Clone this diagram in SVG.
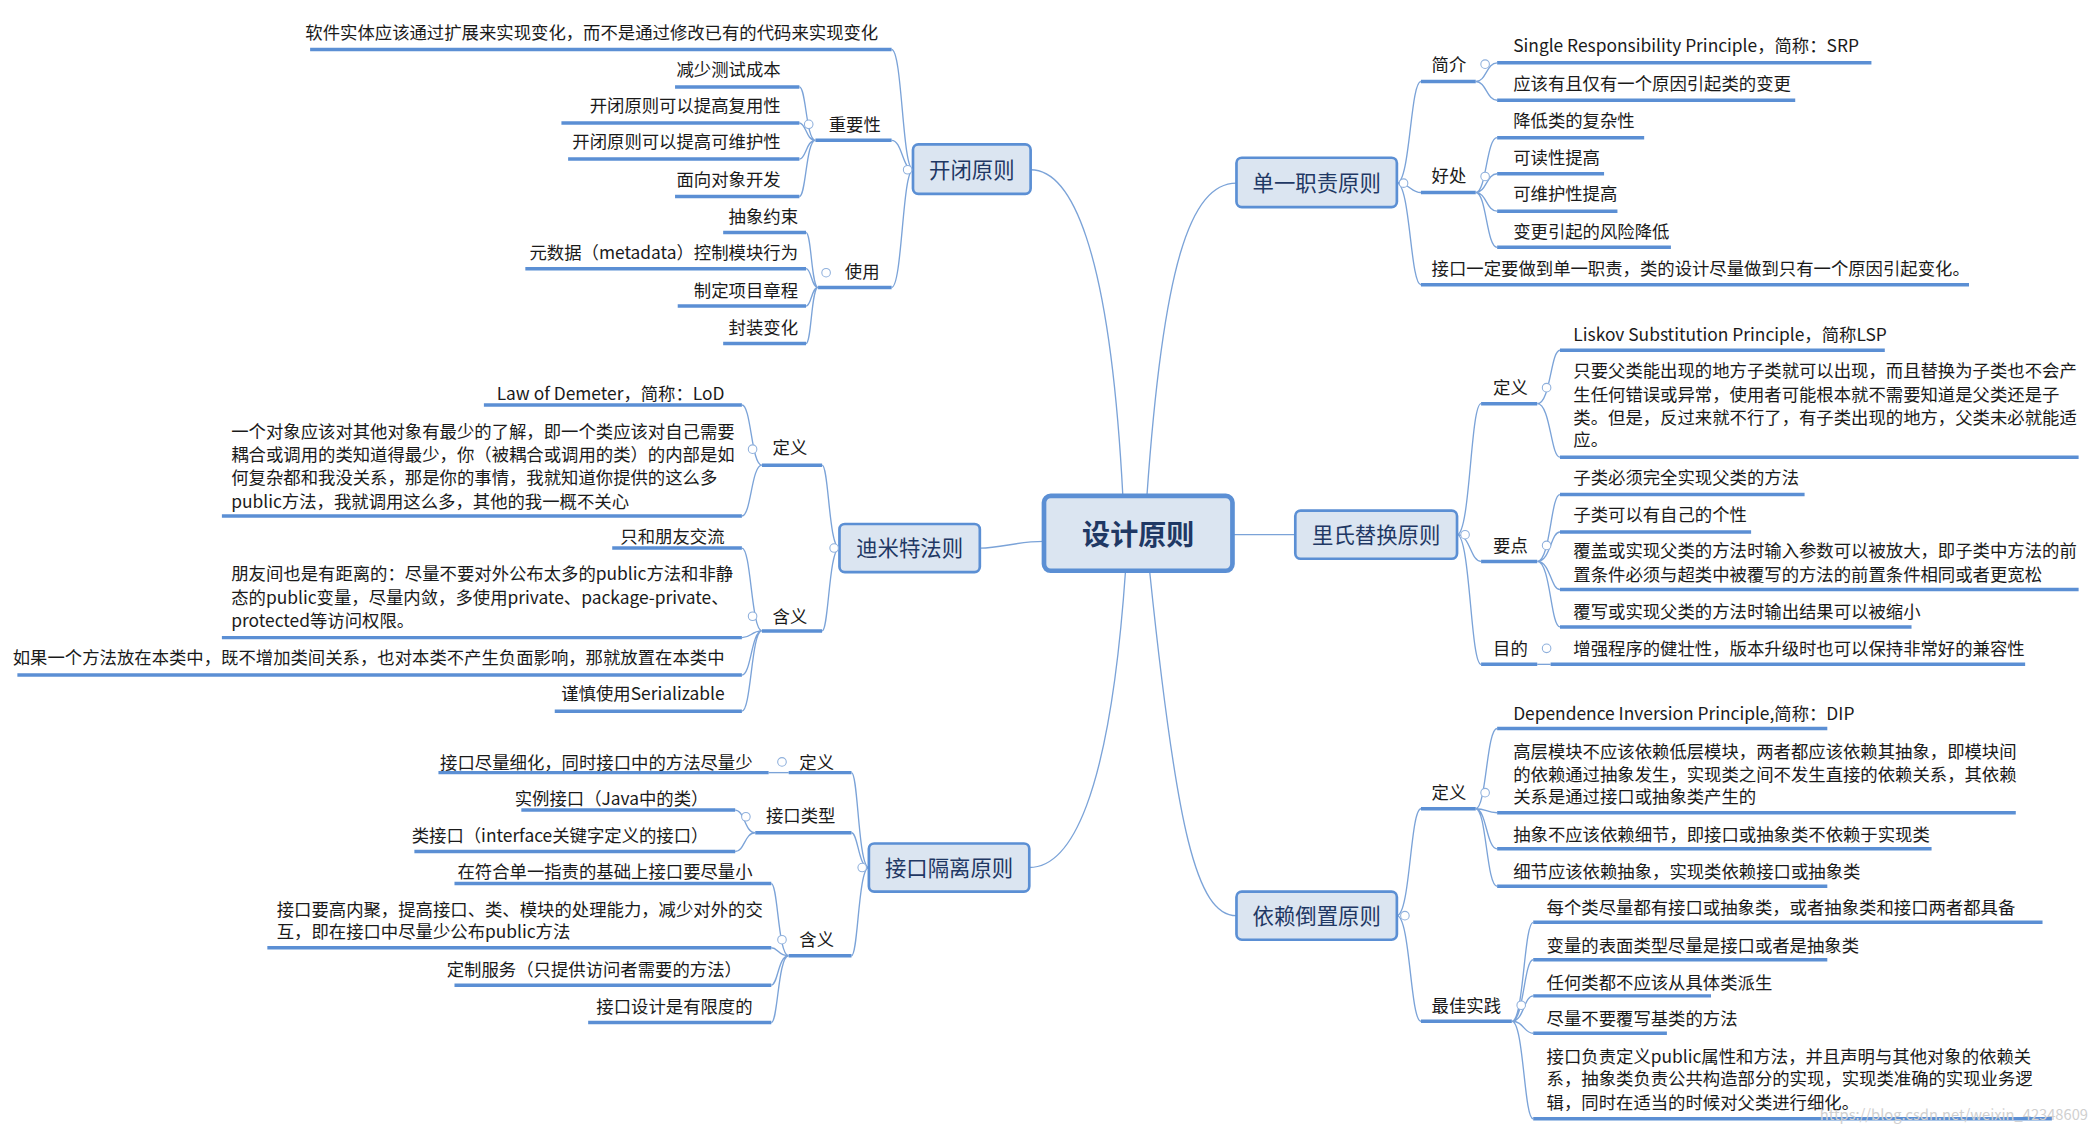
<svg xmlns="http://www.w3.org/2000/svg" width="2096" height="1136" viewBox="0 0 2096 1136">
<style>
text{font-family:"Noto Sans CJK SC","Liberation Sans",sans-serif;font-size:13px;fill:#1a1a1a}
.e{text-anchor:end}
.u{stroke:#5b8fd4;stroke-width:2.6;fill:none}
.c{stroke:#7ba3d8;stroke-width:1;fill:none}
.b{fill:#dbe5f1;stroke:#5b8fd4;stroke-width:2}
.bt{font-size:16px;fill:#1f3864;text-anchor:middle}
.o{fill:#fff;stroke:#8fb0dc;stroke-width:0.8}
</style>
<rect width="2096" height="1136" fill="#fff"/>
<g transform="scale(1.33673)">
<g id="connectors">
<path class="c" d="M840,371 C830,180 800,127 771,127"/>
<path class="c" d="M858,371 C870,200 890,137 925,137"/>
<path class="c" d="M781,405 C760,405 750,410 733,410"/>
<path class="c" d="M922,400 L969,400"/>
<path class="c" d="M842,427 C830,600 800,649 770,649"/>
<path class="c" d="M860,427 C880,620 895,685 925,685"/>
<!-- 开闭 -->
<path class="c" d="M683,127 C675,127 675,37 667,37 M683,127 C675,127 675,105 667,105 M683,127 C675,127 675,215 667,215"/>
<path class="c" d="M610,105 C603,105 603,65 598,65 M610,105 C603,105 603,92 598,92 M610,105 C603,105 603,119 598,119 M610,105 C603,105 603,147 598,147"/>
<path class="c" d="M612,215 C607,215 607,174 603,174 M612,215 C607,215 607,201 603,201 M612,215 C607,215 607,229 603,229 M612,215 C607,215 607,257 603,257"/>
<!-- 迪米特 -->
<path class="c" d="M628,410 C620,410 620,348 615,348 M628,410 C620,410 620,472 615,472"/>
<path class="c" d="M570,348 C562,348 562,303 555,303 M570,348 C562,348 562,386 555,386"/>
<path class="c" d="M570,472 C562,472 562,410 555,410 M570,472 C562,472 562,477 555,477 M570,472 C562,472 562,505 555,505 M570,472 C562,472 562,532 555,532"/>
<!-- 接口隔离 -->
<path class="c" d="M650,649 C642,649 642,578 637,578 M650,649 C642,649 642,623 637,623 M650,649 C642,649 642,715 637,715"/>
<path class="c" d="M590,578 L575,578"/>
<path class="c" d="M565,623 C557,623 557,606 550,606 M565,623 C557,623 557,637 550,637"/>
<path class="c" d="M590,715 C582,715 582,661 577,661 M590,715 C582,715 582,709 577,709 M590,715 C582,715 582,737 577,737 M590,715 C582,715 582,765 577,765"/>
<!-- 单一 -->
<path class="c" d="M1045,137 C1055,137 1055,61 1063,61 M1045,137 C1055,137 1055,144 1063,144 M1045,137 C1055,137 1055,213 1063,213"/>
<path class="c" d="M1104,61 C1112,61 1112,47 1120,47 M1104,61 C1112,61 1112,75 1120,75"/>
<path class="c" d="M1104,144 C1112,144 1112,103 1120,103 M1104,144 C1112,144 1112,130 1120,130 M1104,144 C1112,144 1112,158 1120,158 M1104,144 C1112,144 1112,185 1120,185"/>
<!-- 里氏 -->
<path class="c" d="M1090,400 C1100,400 1100,302 1108,302 M1090,400 C1100,400 1100,420 1108,420 M1090,400 C1100,400 1100,497 1108,497"/>
<path class="c" d="M1150,302 C1160,302 1160,262 1167,262 M1150,302 C1160,302 1160,342 1167,342"/>
<path class="c" d="M1150,420 C1160,420 1160,370 1167,370 M1150,420 C1160,420 1160,398 1167,398 M1150,420 C1160,420 1160,441 1167,441 M1150,420 C1160,420 1160,469 1167,469"/>
<path class="c" d="M1150,497 L1160,497"/>
<!-- 依赖 -->
<path class="c" d="M1045,685 C1055,685 1055,605 1063,605 M1045,685 C1055,685 1055,764 1063,764"/>
<path class="c" d="M1104,605 C1112,605 1112,545 1120,545 M1104,605 C1112,605 1112,608 1120,608 M1104,605 C1112,605 1112,635 1120,635 M1104,605 C1112,605 1112,663 1120,663"/>
<path class="c" d="M1131,764 C1140,764 1140,690 1147,690 M1131,764 C1140,764 1140,718 1147,718 M1131,764 C1140,764 1140,745 1147,745 M1131,764 C1140,764 1140,773 1147,773 M1131,764 C1140,764 1140,837 1147,837"/>
</g>

<g id="center"><rect x="781" y="371" width="141" height="56" rx="5" fill="#dbe5f1" stroke="#5b8fd4" stroke-width="3.5"/><text x="851.5" y="408" class="bt" style="font-size:21px;font-weight:bold">设计原则</text></g>

<g id="kaibi">
<rect class="b" x="683" y="108" width="88" height="37" rx="4"/><text class="bt" x="727" y="133">开闭原则</text>
<circle class="o" cx="679" cy="127" r="3.2"/>
<text class="e" x="657" y="29">软件实体应该通过扩展来实现变化，而不是通过修改已有的代码来实现变化</text><line class="u" x1="232" y1="37" x2="667" y2="37"/>
<text x="620" y="98">重要性</text><line class="u" x1="610" y1="105" x2="667" y2="105"/><circle class="o" cx="605" cy="93" r="3.2"/>
<text class="e" x="584" y="57">减少测试成本</text><line class="u" x1="505" y1="65" x2="598" y2="65"/>
<text class="e" x="584" y="84">开闭原则可以提高复用性</text><line class="u" x1="420" y1="92" x2="598" y2="92"/>
<text class="e" x="584" y="111">开闭原则可以提高可维护性</text><line class="u" x1="425" y1="119" x2="598" y2="119"/>
<text class="e" x="584" y="139">面向对象开发</text><line class="u" x1="505" y1="147" x2="598" y2="147"/>
<text x="632" y="208">使用</text><line class="u" x1="612" y1="215" x2="667" y2="215"/><circle class="o" cx="618" cy="204" r="3.2"/>
<text class="e" x="597" y="167">抽象约束</text><line class="u" x1="541" y1="174" x2="603" y2="174"/>
<text class="e" x="597" y="194">元数据（metadata）控制模块行为</text><line class="u" x1="393" y1="201" x2="603" y2="201"/>
<text class="e" x="597" y="222">制定项目章程</text><line class="u" x1="507" y1="229" x2="603" y2="229"/>
<text class="e" x="597" y="250">封装变化</text><line class="u" x1="541" y1="257" x2="603" y2="257"/>
</g>

<g id="dimite">
<rect class="b" x="628" y="392" width="105" height="36" rx="4"/><text class="bt" x="680.5" y="416">迪米特法则</text>
<circle class="o" cx="624" cy="410" r="3.2"/>
<text x="578" y="340">定义</text><line class="u" x1="570" y1="348" x2="615" y2="348"/><circle class="o" cx="563" cy="336" r="3.2"/>
<text class="e" x="542" y="299">Law of Demeter，简称：LoD</text><line class="u" x1="362" y1="303" x2="555" y2="303"/>
<text x="173" y="328">一个对象应该对其他对象有最少的了解，即一个类应该对自己需要</text>
<text x="173" y="345">耦合或调用的类知道得最少，你（被耦合或调用的类）的内部是如</text>
<text x="173" y="362">何复杂都和我没关系，那是你的事情，我就知道你提供的这么多</text>
<text x="173" y="380">public方法，我就调用这么多，其他的我一概不关心</text>
<line class="u" x1="166" y1="386" x2="555" y2="386"/>
<text x="578" y="466">含义</text><line class="u" x1="570" y1="472" x2="615" y2="472"/><circle class="o" cx="563" cy="461" r="3.2"/>
<text class="e" x="542" y="406">只和朋友交流</text><line class="u" x1="458" y1="410" x2="555" y2="410"/>
<text x="173" y="434">朋友间也是有距离的：尽量不要对外公布太多的public方法和非静</text>
<text x="173" y="452">态的public变量，尽量内敛，多使用private、package-private、</text>
<text x="173" y="469">protected等访问权限。</text>
<line class="u" x1="166" y1="477" x2="555" y2="477"/>
<text class="e" x="542" y="497">如果一个方法放在本类中，既不增加类间关系，也对本类不产生负面影响，那就放置在本类中</text><line class="u" x1="13" y1="505" x2="555" y2="505"/>
<text class="e" x="542" y="524">谨慎使用Serializable</text><line class="u" x1="415" y1="532" x2="555" y2="532"/>
</g>

<g id="jiekougeli">
<rect class="b" x="650" y="631" width="120" height="36" rx="4"/><text class="bt" x="710" y="655">接口隔离原则</text>
<circle class="o" cx="645" cy="649" r="3.2"/>
<text x="598" y="575">定义</text><line class="u" x1="590" y1="578" x2="637" y2="578"/><circle class="o" cx="585" cy="570" r="3.2"/>
<text class="e" x="563" y="575">接口尽量细化，同时接口中的方法尽量少</text><line class="u" x1="328" y1="578" x2="575" y2="578"/>
<text x="573" y="615">接口类型</text><line class="u" x1="565" y1="623" x2="637" y2="623"/><circle class="o" cx="558" cy="611" r="3.2"/>
<text class="e" x="530" y="602">实例接口（Java中的类）</text><line class="u" x1="390" y1="606" x2="550" y2="606"/>
<text class="e" x="530" y="630">类接口（interface关键字定义的接口）</text><line class="u" x1="310" y1="637" x2="550" y2="637"/>
<text x="598" y="708">含义</text><line class="u" x1="590" y1="715" x2="637" y2="715"/><circle class="o" cx="585" cy="703" r="3.2"/>
<text class="e" x="563" y="657">在符合单一指责的基础上接口要尽量小</text><line class="u" x1="340" y1="661" x2="577" y2="661"/>
<text x="207" y="685">接口要高内聚，提高接口、类、模块的处理能力，减少对外的交</text>
<text x="207" y="702">互，即在接口中尽量少公布public方法</text>
<line class="u" x1="200" y1="709" x2="577" y2="709"/>
<text class="e" x="555" y="730">定制服务（只提供访问者需要的方法）</text><line class="u" x1="340" y1="737" x2="577" y2="737"/>
<text class="e" x="563" y="758">接口设计是有限度的</text><line class="u" x1="440" y1="765" x2="577" y2="765"/>
</g>

<g id="danyi">
<rect class="b" x="925" y="118" width="120" height="37" rx="4"/><text class="bt" x="985" y="143">单一职责原则</text>
<circle class="o" cx="1050" cy="137" r="3.2"/>
<text x="1071" y="53">简介</text><line class="u" x1="1063" y1="61" x2="1104" y2="61"/><circle class="o" cx="1111" cy="48" r="3.2"/>
<text x="1132" y="39">Single Responsibility Principle，简称：SRP</text><line class="u" x1="1120" y1="47" x2="1400" y2="47"/>
<text x="1132" y="67">应该有且仅有一个原因引起类的变更</text><line class="u" x1="1120" y1="75" x2="1343" y2="75"/>
<text x="1071" y="136">好处</text><line class="u" x1="1063" y1="144" x2="1104" y2="144"/><circle class="o" cx="1111" cy="132" r="3.2"/>
<text x="1132" y="95">降低类的复杂性</text><line class="u" x1="1120" y1="103" x2="1230" y2="103"/>
<text x="1132" y="123">可读性提高</text><line class="u" x1="1120" y1="130" x2="1200" y2="130"/>
<text x="1132" y="150">可维护性提高</text><line class="u" x1="1120" y1="158" x2="1210" y2="158"/>
<text x="1132" y="178">变更引起的风险降低</text><line class="u" x1="1120" y1="185" x2="1250" y2="185"/>
<text x="1071" y="206">接口一定要做到单一职责，类的设计尽量做到只有一个原因引起变化。</text><line class="u" x1="1063" y1="213" x2="1473" y2="213"/>
</g>

<g id="lishi">
<rect class="b" x="969" y="382" width="121" height="36" rx="4"/><text class="bt" x="1029.5" y="406">里氏替换原则</text>
<circle class="o" cx="1096" cy="400" r="3.2"/>
<text x="1117" y="295">定义</text><line class="u" x1="1108" y1="302" x2="1150" y2="302"/><circle class="o" cx="1157" cy="290" r="3.2"/>
<text x="1177" y="255">Liskov Substitution Principle，简称LSP</text><line class="u" x1="1167" y1="262" x2="1410" y2="262"/>
<text x="1177" y="282">只要父类能出现的地方子类就可以出现，而且替换为子类也不会产</text>
<text x="1177" y="300">生任何错误或异常，使用者可能根本就不需要知道是父类还是子</text>
<text x="1177" y="317">类。但是，反过来就不行了，有子类出现的地方，父类未必就能适</text>
<text x="1177" y="334">应。</text>
<line class="u" x1="1167" y1="342" x2="1555" y2="342"/>
<text x="1117" y="413">要点</text><line class="u" x1="1108" y1="420" x2="1150" y2="420"/><circle class="o" cx="1157" cy="408" r="3.2"/>
<text x="1177" y="362">子类必须完全实现父类的方法</text><line class="u" x1="1167" y1="370" x2="1350" y2="370"/>
<text x="1177" y="390">子类可以有自己的个性</text><line class="u" x1="1167" y1="398" x2="1310" y2="398"/>
<text x="1177" y="417">覆盖或实现父类的方法时输入参数可以被放大，即子类中方法的前</text>
<text x="1177" y="435">置条件必须与超类中被覆写的方法的前置条件相同或者更宽松</text>
<line class="u" x1="1167" y1="441" x2="1555" y2="441"/>
<text x="1177" y="462">覆写或实现父类的方法时输出结果可以被缩小</text><line class="u" x1="1167" y1="469" x2="1430" y2="469"/>
<text x="1117" y="490">目的</text><line class="u" x1="1108" y1="497" x2="1150" y2="497"/><circle class="o" cx="1157" cy="485" r="3.2"/>
<text x="1177" y="490">增强程序的健壮性，版本升级时也可以保持非常好的兼容性</text><line class="u" x1="1160" y1="497" x2="1515" y2="497"/>
</g>

<g id="yilai">
<rect class="b" x="925" y="667" width="120" height="36" rx="4"/><text class="bt" x="985" y="691">依赖倒置原则</text>
<circle class="o" cx="1051" cy="685" r="3.2"/>
<text x="1071" y="598">定义</text><line class="u" x1="1063" y1="605" x2="1104" y2="605"/><circle class="o" cx="1111" cy="593" r="3.2"/>
<text x="1132" y="539">Dependence Inversion Principle,简称：DIP</text><line class="u" x1="1120" y1="545" x2="1367" y2="545"/>
<text x="1132" y="567">高层模块不应该依赖低层模块，两者都应该依赖其抽象，即模块间</text>
<text x="1132" y="584">的依赖通过抽象发生，实现类之间不发生直接的依赖关系，其依赖</text>
<text x="1132" y="601">关系是通过接口或抽象类产生的</text>
<line class="u" x1="1120" y1="608" x2="1508" y2="608"/>
<text x="1132" y="629">抽象不应该依赖细节，即接口或抽象类不依赖于实现类</text><line class="u" x1="1120" y1="635" x2="1445" y2="635"/>
<text x="1132" y="657">细节应该依赖抽象，实现类依赖接口或抽象类</text><line class="u" x1="1120" y1="663" x2="1367" y2="663"/>
<text x="1071" y="757">最佳实践</text><line class="u" x1="1063" y1="764" x2="1131" y2="764"/><circle class="o" cx="1138" cy="752" r="3.2"/>
<text x="1157" y="684">每个类尽量都有接口或抽象类，或者抽象类和接口两者都具备</text><line class="u" x1="1147" y1="690" x2="1528" y2="690"/>
<text x="1157" y="712">变量的表面类型尽量是接口或者是抽象类</text><line class="u" x1="1147" y1="718" x2="1367" y2="718"/>
<text x="1157" y="740">任何类都不应该从具体类派生</text><line class="u" x1="1147" y1="745" x2="1280" y2="745"/>
<text x="1157" y="767">尽量不要覆写基类的方法</text><line class="u" x1="1147" y1="773" x2="1247" y2="773"/>
<text x="1157" y="795"> 接口负责定义public属性和方法，并且声明与其他对象的依赖关</text>
<text x="1157" y="812">系，抽象类负责公共构造部分的实现，实现类准确的实现业务逻</text>
<text x="1157" y="830">辑，同时在适当的时候对父类进行细化。</text>
<line class="u" x1="1147" y1="837" x2="1535" y2="837"/>
</g>
<text x="1562" y="838" style="font-size:11px;fill:#d0d0d0;text-anchor:end">https://blog.csdn.net/weixin_42348609</text>
</g>
</svg>
